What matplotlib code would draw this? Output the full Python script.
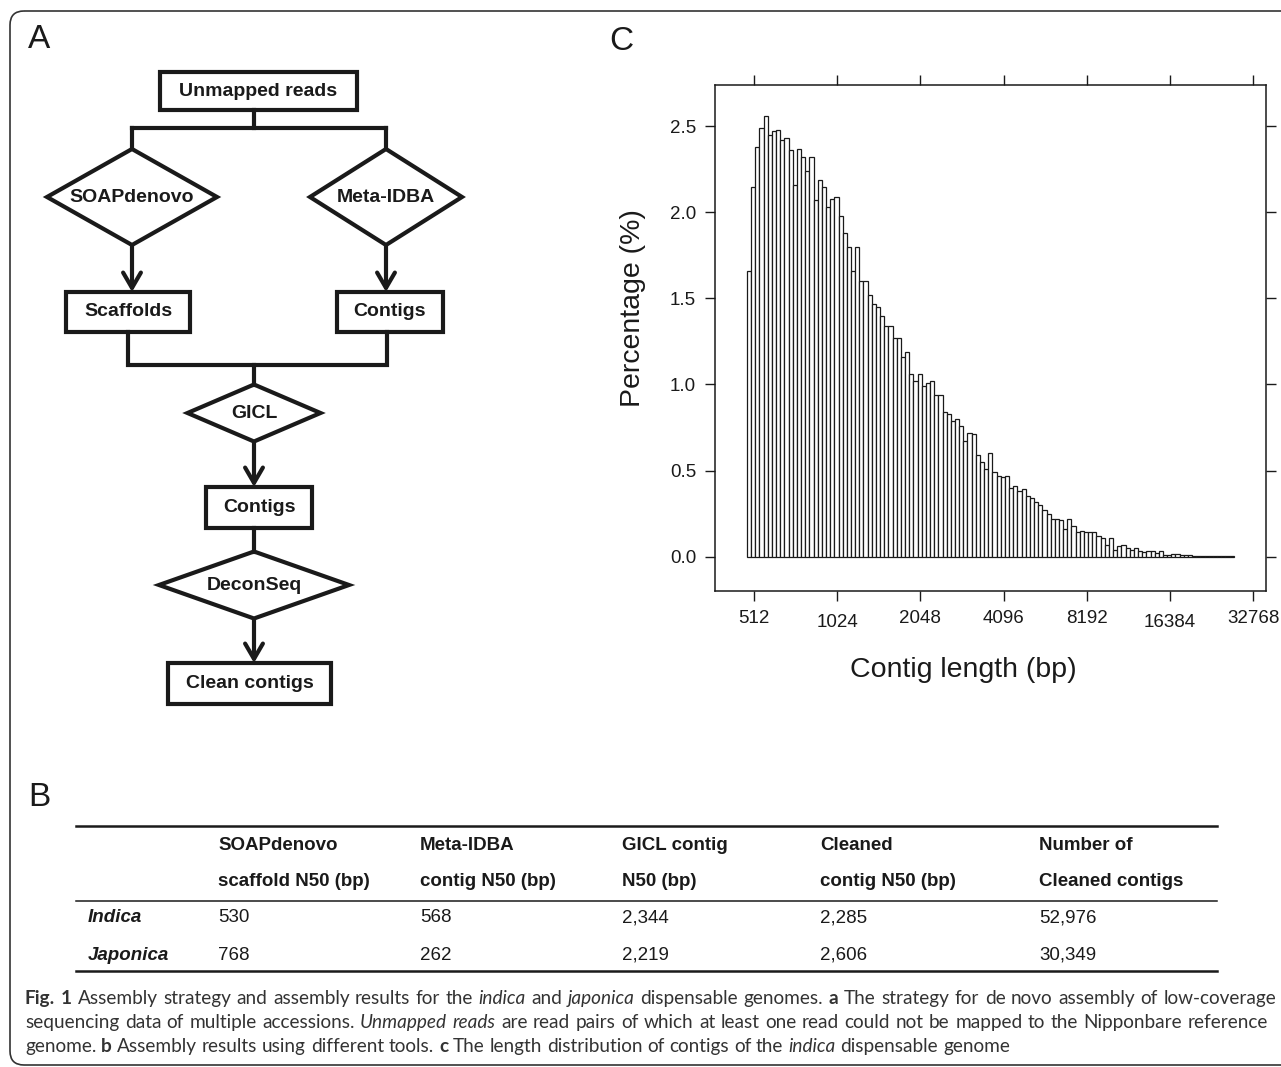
import matplotlib
matplotlib.use("Agg")
import matplotlib.pyplot as plt
from matplotlib.patches import Polygon, Rectangle, FancyBboxPatch
from matplotlib.ticker import NullLocator
from matplotlib.transforms import ScaledTranslation
import numpy as np

plt.rcParams["font.family"] = ["Liberation Sans", "DejaVu Sans"]

W, H = 1281, 1067
INK = "#1a1a1a"

# ==================== DATOS ====================

# panel C: histograma de longitudes (bins log2 de ancho 0.05)
bin_start_bp = 483
bin_step_log2 = 0.05
pct = [1.66, 2.15, 2.38, 2.49, 2.56, 2.45, 2.47, 2.48, 2.42, 2.43,
       2.36, 2.16, 2.37, 2.32, 2.24, 2.32, 2.07, 2.19, 2.15, 2.03,
       2.08, 2.09, 1.98, 1.88, 1.80, 1.66, 1.80, 1.60, 1.60, 1.52,
       1.47, 1.45, 1.40, 1.34, 1.34, 1.27, 1.27, 1.16, 1.19, 1.06,
       1.02, 1.06, 0.99, 1.01, 1.02, 0.94,
       0.94, 0.84, 0.83, 0.79, 0.80, 0.76, 0.67, 0.72, 0.71, 0.59,
       0.55, 0.51, 0.60, 0.49, 0.47, 0.46, 0.47, 0.40, 0.41, 0.38,
       0.39, 0.35, 0.34, 0.32, 0.30, 0.27, 0.25, 0.22, 0.22, 0.21,
       0.16, 0.22, 0.18, 0.14, 0.15, 0.14, 0.14, 0.14, 0.12, 0.11,
       0.07, 0.11, 0.04, 0.06, 0.07,
       0.05, 0.04, 0.05, 0.03, 0.025, 0.035, 0.035, 0.02, 0.03, 0.012,
       0.012, 0.015, 0.015, 0.008, 0.008, 0.008, 0.005, 0.006, 0.004, 0.004,
       0.006, 0.003, 0.003, 0.002, 0.002, 0.002]
xtick_vals = [512, 1024, 2048, 4096, 8192, 16384, 32768]
ytick_vals = [0.0, 0.5, 1.0, 1.5, 2.0, 2.5]

# panel B: tabla
col_head_1 = ["SOAPdenovo", "Meta-IDBA", "GICL contig", "Cleaned", "Number of"]
col_head_2 = ["scaffold N50 (bp)", "contig N50 (bp)", "N50 (bp)", "contig N50 (bp)", "Cleaned contigs"]
row_names = ["Indica", "Japonica"]
indica_vals = ["530", "568", "2,344", "2,285", "52,976"]
japonica_vals = ["768", "262", "2,219", "2,606", "30,349"]

# panel A: diagrama de flujo (coordenadas en pixeles)
boxes = [("Unmapped reads", 160, 72, 357, 110),
         ("Scaffolds", 66, 292, 190, 332),
         ("Contigs", 337, 292, 443, 332),
         ("Contigs", 206, 487, 312, 528),
         ("Clean contigs", 168, 663, 331, 704)]
diamonds = [("SOAPdenovo", 132, 197, 170, 96),
            ("Meta-IDBA", 386, 197, 152, 96),
            ("GICL", 254, 413, 133, 57),
            ("DeconSeq", 254, 585, 190, 67)]
connectors = [[(254, 110), (254, 128)],
              [(132, 128), (386, 128)],
              [(132, 128), (132, 149)],
              [(386, 128), (386, 149)],
              [(128, 332), (128, 365), (387, 365), (387, 332)],
              [(254, 365), (254, 385)],
              [(254, 528), (254, 552)]]
arrows = [((132, 245), (132, 292)), ((386, 245), (386, 292)),
          ((254, 442), (254, 487)), ((254, 619), (254, 663))]

caption = [
    [("Fig. 1", "b"), (" Assembly strategy and assembly results for the ", "n"), ("indica", "i"),
     (" and ", "n"), ("japonica", "i"), (" dispensable genomes. ", "n"), ("a", "b"),
     (" The strategy for de novo assembly of low-coverage", "n")],
    [("sequencing data of multiple accessions. ", "n"), ("Unmapped reads", "i"),
     (" are read pairs of which at least one read could not be mapped to the Nipponbare reference", "n")],
    [("genome. ", "n"), ("b", "b"), (" Assembly results using different tools. ", "n"), ("c", "b"),
     (" The length distribution of contigs of the ", "n"), ("indica", "i"), (" dispensable genome", "n")],
]

# ==================== FIGURA ====================

fig = plt.figure(figsize=(W / 100, H / 100), dpi=100)
ov = fig.add_axes([0, 0, 1, 1])
ov.set_xlim(0, W)
ov.set_ylim(H, 0)
ov.axis("off")

# marco redondeado
ov.add_patch(FancyBboxPatch((10, 11), 1300, 1054, boxstyle="round,pad=0,rounding_size=14",
                            fill=False, ec="#333333", lw=1.2))

# etiquetas de panel
for lab, x, y in [("A", 39, 40), ("C", 621, 42), ("B", 39, 797)]:
    ov.text(x, y, lab, fontsize=24, ha="center", va="center", color=INK)

# ---- panel A ----
lw_fc = 3.0
for lab, x0, y0, x1, y1 in boxes:
    ov.add_patch(Rectangle((x0, y0), x1 - x0, y1 - y0, fill=False, ec=INK, lw=lw_fc, joinstyle="miter"))
    ov.text((x0 + x1) / 2, (y0 + y1) / 2, lab, fontsize=14, fontweight="bold",
            ha="center", va="center", color=INK)
for lab, cx, cy, w, h in diamonds:
    pts = [(cx - w / 2, cy), (cx, cy - h / 2), (cx + w / 2, cy), (cx, cy + h / 2)]
    ov.add_patch(Polygon(pts, closed=True, fill=False, ec=INK, lw=lw_fc, joinstyle="miter"))
    ov.text(cx, cy, lab, fontsize=14, fontweight="bold", ha="center", va="center", color=INK)
for seg in connectors:
    xs, ys = zip(*seg)
    ov.plot(xs, ys, color=INK, lw=lw_fc, solid_joinstyle="miter", solid_capstyle="projecting")
for (x0, y0), (x1, y1) in arrows:
    ov.annotate("", xy=(x1, y1), xytext=(x0, y0),
                arrowprops=dict(arrowstyle="->,head_length=0.55,head_width=0.32", lw=lw_fc,
                                color=INK, shrinkA=0, shrinkB=0, mutation_scale=20))

# ---- panel B: tabla ----
tfs = 13.5
col_x = [218, 420, 622, 820, 1039]
ov.plot([76, 1217], [826, 826], color=INK, lw=1.8)
ov.plot([76, 1217], [901, 901], color=INK, lw=1.1)
ov.plot([76, 1217], [971, 971], color=INK, lw=1.8)
for x, h1, h2 in zip(col_x, col_head_1, col_head_2):
    ov.text(x, 846, h1, fontsize=tfs, fontweight="bold", va="center", color=INK)
    ov.text(x, 882, h2, fontsize=tfs, fontweight="bold", va="center", color=INK)
for y, name, vals in zip([918, 955], row_names, [indica_vals, japonica_vals]):
    ov.text(88, y, name, fontsize=tfs, fontweight="bold", fontstyle="italic", va="center", color=INK)
    for x, v in zip(col_x, vals):
        ov.text(x, y, v, fontsize=tfs, va="center", color=INK)

# ---- leyenda (texto justificado) ----
renderer = fig.canvas.get_renderer()
cap_font = dict(family=["Lato", "Liberation Sans"], fontsize=13.7, color="#333333")
styles = {"n": {}, "b": {"fontweight": "bold"}, "i": {"fontstyle": "italic"}}


def text_w(s, st):
    t = ov.text(0, 0, s, **cap_font, **styles[st])
    w = t.get_window_extent(renderer).width
    t.remove()
    return w


space_w = text_w("x x", "n") - text_w("xx", "n")
cap_lines = [(1004, 25, 1276), (1028, 25, 1268), (1052, 25, None)]
for frags, (yb, x0, x1) in zip(caption, cap_lines):
    words = []
    for s, st in frags:
        for w in s.split(" "):
            if w:
                words.append((w, st))
    widths = [text_w(w, st) for w, st in words]
    if x1 is None:
        gap = space_w
    else:
        gap = (x1 - x0 - sum(widths)) / (len(words) - 1)
    x = x0
    for (w, st), wd in zip(words, widths):
        ov.text(x, yb, w, va="baseline", ha="left", **cap_font, **styles[st])
        x += wd + gap

# ---- panel C: histograma ----
ax = fig.add_axes([715 / W, 1 - 591 / H, (1266 - 715) / W, (591 - 85) / H])
idx = np.arange(len(pct))
lefts = bin_start_bp * 2.0 ** (idx * bin_step_log2)
rights = bin_start_bp * 2.0 ** ((idx + 1) * bin_step_log2)
ax.bar(lefts, pct, width=rights - lefts, align="edge", facecolor="white",
       edgecolor=INK, linewidth=0.9)
ax.set_xscale("log", base=2)
ax.set_xlim(2 ** 8.531, 2 ** 15.154)
ax.set_ylim(-0.20, 2.74)
ax.set_xticks(xtick_vals, labels=[str(v) for v in xtick_vals])
ax.xaxis.set_minor_locator(NullLocator())
ax.set_yticks(ytick_vals, labels=[f"{v:.1f}" for v in ytick_vals])
ax.tick_params(direction="out", length=7.5, width=1.0, top=True, right=True,
               labeltop=False, labelright=False, labelsize=13.5, pad=6,
               colors=INK)
for s in ax.spines.values():
    s.set_linewidth(1.1)
    s.set_color(INK)
for i in (1, 5):
    lbl = ax.get_xticklabels()[i]
    lbl.set_transform(lbl.get_transform() + ScaledTranslation(0, -3 / 72, fig.dpi_scale_trans))
ax.text(-0.1488, 0.56, "Percentage (%)", transform=ax.transAxes, rotation=90,
        ha="center", va="center", fontsize=20.5, color=INK)
ax.text(0.45, -0.156, "Contig length (bp)", transform=ax.transAxes,
        ha="center", va="center", fontsize=20.5, color=INK)

fig.savefig("out.png", dpi=100)
